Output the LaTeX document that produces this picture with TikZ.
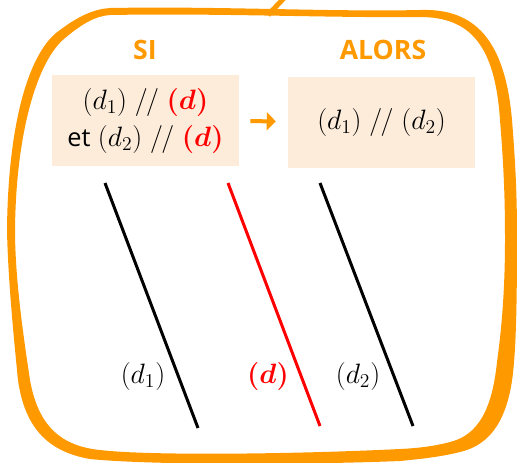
\RequirePackage{fix-cm}
\documentclass[tikz,border=0pt]{standalone}
\usepackage{amsmath}
\usepackage{fontspec}
\setmainfont{Open Sans}
\usetikzlibrary{arrows.meta}
\definecolor{frameorange}{RGB}{255,153,0}
\definecolor{boxfill}{RGB}{253,236,218}
\newcommand{\parall}{\mathrel{/\mkern-1mu/}}
\newcommand{\etword}{{\fontsize{19}{20}\selectfont et}}

\begin{document}
\begin{tikzpicture}[x=0.75pt,y=-0.75pt,
    condbox/.style={fill=boxfill, minimum width=140.25pt, minimum height=68.25pt, inner sep=0pt, align=center, font=\fontsize{21}{27.75}\selectfont},
    headnode/.style={text=frameorange, inner sep=0pt, font=\fontsize{20}{24}\selectfont\bfseries},
    droitelabel/.style={inner sep=0pt, font=\fontsize{21}{24}\selectfont},
    droite/.style={line width=2.25pt}
    ]
    \useasboundingbox (0,0) rectangle (517,462);

    % cadre
    \fill [frameorange, even odd rule]
      (110,8) .. controls (220,6) and (330,12) .. (420,10)
      .. controls (475,8) and (505,40) .. (512,120)
      .. controls (516,170) and (517,200) .. (517,240)
      .. controls (517,300) and (516,340) .. (514,362)
      .. controls (510,420) and (490,445) .. (460,452)
      .. controls (440,457) and (420,459) .. (400,461)
      .. controls (300,465) and (150,465) .. (90,459)
      .. controls (50,452) and (25,430) .. (18,380)
      .. controls (14,340) and (8,280) .. (7,230)
      .. controls (8,120) and (30,50) .. (60,30)
      .. controls (80,15) and (95,9) .. (110,8) -- cycle
      (110,15) .. controls (220,13) and (330,18) .. (420,17)
      .. controls (470,17) and (495,45) .. (500,120)
      .. controls (504,170) and (505,200) .. (505,240)
      .. controls (505,300) and (500,340) .. (497,362)
      .. controls (492,410) and (478,435) .. (450,442)
      .. controls (435,446) and (420,448) .. (400,449)
      .. controls (300,454) and (150,456) .. (100,450)
      .. controls (60,446) and (38,425) .. (30,380)
      .. controls (24,340) and (15,280) .. (15,230)
      .. controls (16,130) and (38,60) .. (65,38)
      .. controls (82,24) and (95,16) .. (110,15) -- cycle;
    \draw [frameorange, line width=3.75pt] (268,15) -- (285,-3);

    \node [headnode] (si) at (145,50) {SI};
    \node [headnode] (alors) at (383,50) {ALORS};

    \node [condbox] (hyp) at (145.5,120.5) {$(d_1)\parall\textcolor{red}{\boldsymbol{(d)}}$\\ \etword\ $(d_2)\parall\textcolor{red}{\boldsymbol{(d)}}$};
    \node [condbox] (concl) at (381.5,122) {$(d_1)\parall(d_2)$};

    \draw [frameorange, line width=3pt, -{Triangle[width=13.5pt,length=6.75pt]}, shorten <=8.25pt, shorten >=9pt] (hyp) -- (concl);

    \coordinate (d1a) at (105,183);
    \coordinate (d1b) at (198,428);
    \coordinate (da) at (228,183);
    \coordinate (db) at (320,426);
    \coordinate (d2a) at (320,183);
    \coordinate (d2b) at (413,426);

    \draw [droite] (d1a) -- (d1b);
    \draw [droite, red] (da) -- (db);
    \draw [droite] (d2a) -- (d2b);

    \node [droitelabel] (ld1) at (143,376) {$(d_1)$};
    \node [droitelabel, text=red] (ld) at (268,376) {$\boldsymbol{(d)}$};
    \node [droitelabel] (ld2) at (358,376) {$(d_2)$};

\end{tikzpicture}
\end{document}
